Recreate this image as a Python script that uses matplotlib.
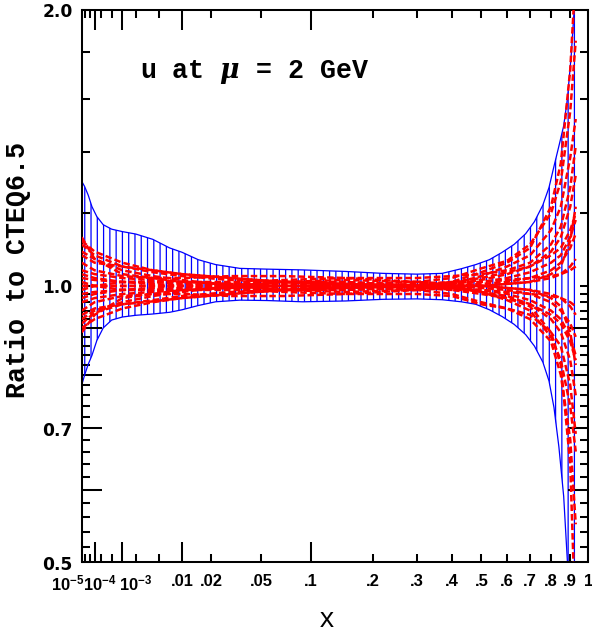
import numpy as np
import matplotlib
matplotlib.use('Agg')
import matplotlib.pyplot as plt
from matplotlib.transforms import ScaledTranslation

# ---------------- data ----------------
band_x = [1e-5, 2e-5, 4e-5, 7e-5, 1.3e-4, 2.5e-4, 5e-4, 1e-3, 2e-3, 4e-3, 7e-3, 0.01,
          0.015, 0.022, 0.035, 0.055, 0.09, 0.15, 0.22, 0.3, 0.37, 0.43, 0.48, 0.53,
          0.58, 0.63, 0.68, 0.72, 0.76, 0.79, 0.815, 0.84, 0.865, 0.885, 0.905, 0.92, 0.935]
band_hi = [1.30, 1.283, 1.255, 1.22, 1.19, 1.166, 1.153, 1.146, 1.139, 1.124, 1.10, 1.088,
           1.068, 1.055, 1.045, 1.043, 1.041, 1.037, 1.032, 1.030, 1.032, 1.044, 1.055, 1.068,
           1.088, 1.11, 1.14, 1.175, 1.225, 1.28, 1.35, 1.42, 1.494, 1.60, 1.78, 1.98, 2.3]
band_lo = [0.78, 0.80, 0.822, 0.84, 0.872, 0.90, 0.918, 0.925, 0.929, 0.932, 0.936, 0.942,
           0.952, 0.961, 0.965, 0.964, 0.961, 0.963, 0.967, 0.968, 0.966, 0.961, 0.955, 0.942,
           0.926, 0.908, 0.885, 0.86, 0.826, 0.788, 0.737, 0.668, 0.59, 0.50, 0.42, 0.36, 0.30]

pdf_x = [1e-5, 1e-4, 1e-3, 0.004, 0.01, 0.03, 0.07, 0.15, 0.3, 0.4, 0.5, 0.6, 0.7, 0.8,
         0.85, 0.9, 0.93]
pdf_sets = [
    [1.12, 1.09, 1.06, 1.04, 1.03, 1.02, 1.01, 1.00, 0.995, 0.99, 0.99, 0.985, 0.98, 0.975, 0.97, 0.96, 0.95],
    [0.90, 0.92, 0.945, 0.96, 0.97, 0.98, 0.99, 1.00, 1.005, 1.01, 1.01, 1.015, 1.02, 1.025, 1.03, 1.04, 1.05],
    [1.11, 1.08, 1.05, 1.035, 1.025, 1.015, 1.01, 1.005, 1.0, 0.995, 0.99, 0.98, 0.965, 0.94, 0.92, 0.88, 0.84],
    [0.91, 0.935, 0.955, 0.965, 0.975, 0.985, 0.99, 0.995, 1.0, 1.005, 1.01, 1.02, 1.035, 1.06, 1.08, 1.13, 1.18],
    [1.09, 1.07, 1.04, 1.025, 1.015, 1.0, 0.99, 0.985, 0.99, 0.995, 1.0, 1.005, 1.01, 1.02, 1.03, 1.05, 1.07],
    [0.92, 0.94, 0.96, 0.975, 0.985, 1.0, 1.01, 1.015, 1.01, 1.005, 1.0, 0.995, 0.99, 0.98, 0.97, 0.95, 0.93],
    [1.06, 1.04, 1.025, 1.02, 1.02, 1.025, 1.025, 1.02, 1.01, 1.0, 0.985, 0.965, 0.94, 0.88, 0.83, 0.74, 0.66],
    [0.94, 0.96, 0.975, 0.98, 0.98, 0.975, 0.975, 0.98, 0.99, 1.005, 1.025, 1.05, 1.08, 1.15, 1.22, 1.38, 1.52],
    [1.04, 1.03, 1.02, 1.015, 1.01, 1.005, 1.0, 0.995, 0.99, 0.98, 0.96, 0.945, 0.92, 0.87, 0.80, 0.68, 0.55],
    [0.96, 0.97, 0.98, 0.985, 0.99, 0.995, 1.0, 1.005, 1.01, 1.02, 1.045, 1.065, 1.11, 1.20, 1.30, 1.55, 1.85],
    [1.00, 1.00, 1.00, 1.00, 1.00, 0.995, 0.99, 0.99, 0.995, 1.01, 1.035, 1.06, 1.10, 1.22, 1.36, 1.72, 2.20],
    [1.00, 1.00, 1.00, 1.00, 1.00, 1.005, 1.01, 1.01, 1.0, 0.995, 0.985, 0.97, 0.95, 0.89, 0.82, 0.64, 0.42],
    [1.02, 1.015, 1.01, 1.005, 1.0, 0.995, 0.99, 0.99, 1.0, 1.01, 1.02, 1.035, 1.05, 1.08, 1.10, 1.15, 1.20],
    [0.98, 0.985, 0.99, 0.995, 1.0, 1.005, 1.01, 1.01, 1.0, 0.99, 0.98, 0.97, 0.955, 0.93, 0.91, 0.87, 0.83],
    [1.13, 1.07, 1.03, 1.02, 1.01, 1.005, 1.0, 1.0, 1.0, 1.0, 1.005, 1.01, 1.02, 1.04, 1.06, 1.10, 1.14],
    [0.89, 0.93, 0.97, 0.98, 0.99, 0.995, 1.0, 1.0, 1.0, 1.0, 0.995, 0.99, 0.98, 0.96, 0.94, 0.91, 0.88],
    [1.08, 1.06, 1.05, 1.04, 1.03, 1.02, 1.01, 1.005, 1.0, 1.005, 1.015, 1.03, 1.05, 1.09, 1.13, 1.22, 1.32],
    [0.93, 0.945, 0.955, 0.962, 0.97, 0.98, 0.99, 0.995, 1.0, 0.995, 0.985, 0.975, 0.955, 0.92, 0.89, 0.83, 0.76],
    [1.03, 1.02, 1.01, 1.01, 1.01, 1.01, 1.015, 1.02, 1.02, 1.025, 1.03, 1.04, 1.06, 1.11, 1.16, 1.28, 1.42],
    [0.97, 0.98, 0.99, 0.99, 0.99, 0.99, 0.985, 0.98, 0.98, 0.975, 0.955, 0.945, 0.93, 0.89, 0.86, 0.78, 0.69],
    [1.01, 1.0, 0.99, 0.99, 0.995, 1.0, 1.005, 1.005, 1.0, 1.0, 1.0, 1.005, 1.01, 1.03, 1.05, 1.12, 1.22],
    [0.99, 1.0, 1.01, 1.01, 1.005, 1.0, 0.995, 0.995, 1.0, 1.0, 1.0, 0.995, 0.99, 0.97, 0.95, 0.89, 0.82],
]

x_major = [1e-5, 1e-4, 1e-3, 0.01, 0.1, 1.0]
x_major_labels = [r'$\mathbf{10^{-5}}$', r'$\mathbf{10^{-4}}$', r'$\mathbf{10^{-3}}$', '.01', '.1', '1']
x_minor = [2e-5, 5e-5, 2e-4, 5e-4, 2e-3, 5e-3, 0.02, 0.05, 0.2, 0.3, 0.4, 0.5, 0.6, 0.7, 0.8, 0.9]
x_minor_labels = ['', '', '', '', '', '', '.02', '.05', '.2', '.3', '.4', '.5', '.6', '.7', '.8', '.9']

y_major = [0.6, 0.7, 0.8, 0.9]
y_major_labels = ['', '0.7', '', '']
y_minor = [0.5, 0.52, 0.54, 0.56, 0.58, 0.62, 0.64, 0.66, 0.68, 0.72, 0.74, 0.76, 0.78,
           0.82, 0.84, 0.86, 0.88, 0.92, 0.94, 0.96, 0.98, 1.0, 1.2, 1.4, 1.6, 1.8, 2.0]
y_minor_labels = ['0.5'] + [''] * 20 + ['1.0', '', '', '', '', '2.0']

title_text = r'u at $\mu$ = 2 GeV'
ylabel_text = 'Ratio to CTEQ6.5'
xlabel_text = 'x'

# ---------------- style ----------------
DPI = 113
plt.rcParams['hatch.linewidth'] = 0.8
plt.rcParams['font.weight'] = 'bold'
plt.rcParams['mathtext.fontset'] = 'custom'
plt.rcParams['mathtext.rm'] = 'Liberation Sans:bold'
plt.rcParams['mathtext.bf'] = 'Liberation Sans:bold'
plt.rcParams['mathtext.it'] = 'DejaVu Serif:italic'
plt.rcParams['mathtext.sf'] = 'Liberation Sans'
plt.rcParams['mathtext.tt'] = 'Liberation Mono'
plt.rcParams['mathtext.cal'] = 'Liberation Sans'

BLUE = '#0000ff'
RED = '#ff0000'

fig = plt.figure(figsize=(592.4 / DPI, 632.4 / DPI), dpi=DPI)
ax = fig.add_axes([81.7 / 592, 1 - 562.3 / 632, 506.0 / 592, 552.3 / 632])
ax.set_xscale('function', functions=(np.cbrt, lambda v: np.asarray(v) ** 3))
ax.set_yscale('log')

# hatched uncertainty band
ax.fill_between(band_x, band_lo, band_hi, facecolor='none', edgecolor=BLUE,
                hatch='|||', linewidth=0, zorder=1)
ax.plot(band_x, band_hi, color=BLUE, lw=0.8, zorder=2)
ax.plot(band_x, band_lo, color=BLUE, lw=0.8, zorder=2)

for vals in pdf_sets:
    ax.plot(pdf_x, vals, color=RED, lw=1.6, dashes=(2.6, 1.2), zorder=3)

ax.set_xlim(1e-5, 1.0)
ax.set_ylim(0.5, 2.0)

ax.set_xticks(x_major, x_major_labels)
ax.set_xticks(x_minor, x_minor_labels, minor=True)
ax.set_yticks(y_major, y_major_labels)
ax.set_yticks(y_minor, y_minor_labels, minor=True)

ax.tick_params(which='both', direction='in', top=True, right=True, width=1.3,
               color='black')
ax.tick_params(which='major', length=12.5)
ax.tick_params(which='minor', length=5.0)
ax.tick_params(axis='x', which='both', labelsize=10.5, pad=7.0,
               labelfontfamily='Liberation Sans')
ax.tick_params(axis='y', which='both', labelsize=10.8, pad=5.8,
               labelfontfamily='DejaVu Sans')

for sp in ax.spines.values():
    sp.set_linewidth(1.3)

# nudge the power-of-ten labels as in the original
shifts = {0: -14, 1: 5, 2: 13}
for i, t in enumerate(ax.xaxis.get_major_ticks()):
    lab = t.label1
    if i in shifts:
        lab.set_transform(lab.get_transform() +
                          ScaledTranslation(shifts[i] / DPI, 0, fig.dpi_scale_trans))

ax.text(0.115, 0.888, title_text, transform=ax.transAxes, ha='left', va='center',
        fontsize=17, family='Liberation Mono', fontweight='bold')
fig.text(18 / 592, 1 - 270 / 632, ylabel_text, rotation=90, ha='center', va='center',
         fontsize=17, family='Liberation Mono', fontweight='bold')
fig.text(327 / 592, 1 - 620 / 632, xlabel_text, ha='center', va='center',
         fontsize=17, family='Liberation Mono', fontweight='normal')

fig.savefig('out.png', dpi=DPI)
